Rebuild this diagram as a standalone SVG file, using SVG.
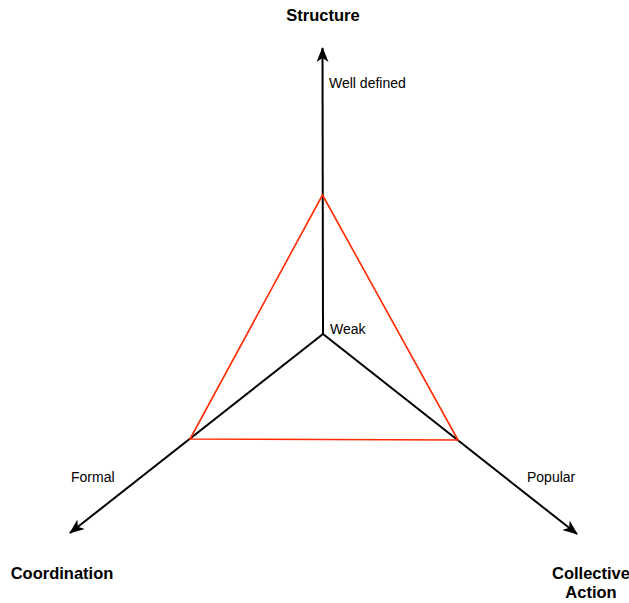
<svg xmlns="http://www.w3.org/2000/svg" width="629" height="603" viewBox="0 0 629 603">
  <style>
    .axis { stroke: #000; stroke-width: 2; fill: none; }
    .area { stroke: #ff2a00; stroke-width: 1.6; fill: none; stroke-linejoin: miter; }
    .title { font-family: "Liberation Sans", Arial, sans-serif; font-size: 16.5px; font-weight: bold; fill: #000; }
    .lbl { font-family: "Liberation Sans", Arial, sans-serif; font-size: 14px; fill: #000; }
  </style>
  <defs>
    <marker id="arrow" viewBox="0 0 15 12" refX="14" refY="6" markerWidth="15" markerHeight="12" markerUnits="userSpaceOnUse" orient="auto">
      <path d="M0,0 L15,6 L0,12 L4,6 Z" fill="#000"/>
    </marker>
  </defs>

  <g id="connectors">
    <line class="axis" x1="323" y1="334" x2="322.5" y2="48" marker-end="url(#arrow)"/>
    <line class="axis" x1="323" y1="334" x2="70" y2="533" marker-end="url(#arrow)"/>
    <line class="axis" x1="323" y1="334" x2="577" y2="534" marker-end="url(#arrow)"/>
  </g>

  <g id="profile">
    <polygon class="area" points="322.5,195 190,439 458,440"/>
  </g>

  <g id="structure">
    <text class="title" x="323" y="21" text-anchor="middle">Structure</text>
    <text class="lbl" x="329" y="88">Well defined</text>
  </g>
  <g id="center">
    <text class="lbl" x="330" y="334">Weak</text>
  </g>
  <g id="coordination">
    <text class="lbl" x="71" y="482">Formal</text>
    <text class="title" x="62" y="579" text-anchor="middle">Coordination</text>
  </g>
  <g id="collective-action">
    <text class="lbl" x="527" y="482">Popular</text>
    <text class="title" x="591" y="579" text-anchor="middle">Collective</text>
    <text class="title" x="591" y="598" text-anchor="middle">Action</text>
  </g>
</svg>
